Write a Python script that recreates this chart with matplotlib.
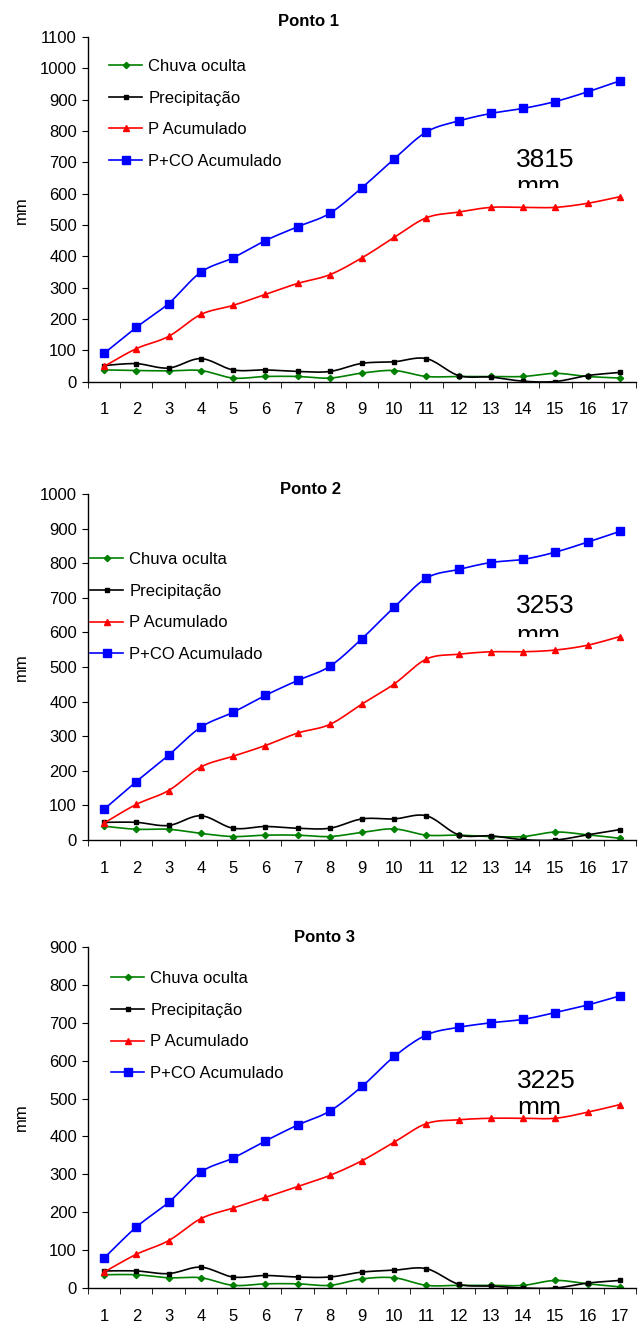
import numpy as np
import matplotlib.pyplot as plt
from matplotlib.lines import Line2D
from matplotlib.patches import Rectangle

plt.rcParams['font.family'] = ['Liberation Sans', 'DejaVu Sans']

dias = list(range(1, 18))
rotulos = ['Chuva oculta', 'Precipitação', 'P Acumulado', 'P+CO Acumulado']

# Ponto 1
co_1 = [37, 35, 34, 35, 11, 16, 16, 11, 27, 35, 16, 16, 16, 16, 26, 16, 11]
prec_1 = [51, 57, 43, 73, 37, 37, 32, 32, 58, 63, 73, 19, 14, 1, 0, 19, 29]
pacum_1 = [48, 105, 144, 214, 243, 278, 313, 341, 395, 460, 523, 541, 556, 556, 556, 569, 590]
pcoacum_1 = [90, 173, 249, 349, 395, 450, 494, 537, 619, 711, 797, 832, 856, 872, 894, 925, 960]

# Ponto 2
co_2 = [40, 31, 31, 19, 10, 14, 14, 10, 22, 32, 14, 14, 10, 10, 23, 15, 5]
prec_2 = [51, 51, 42, 70, 34, 39, 34, 34, 61, 61, 70, 15, 12, 1, 0, 15, 30]
pacum_2 = [49, 103, 143, 211, 242, 273, 309, 334, 393, 451, 523, 537, 544, 544, 549, 563, 588]
pcoacum_2 = [89, 169, 245, 326, 369, 418, 461, 502, 582, 673, 757, 782, 802, 811, 832, 861, 892]

# Ponto 3
co_3 = [35, 35, 27, 27, 7, 11, 11, 7, 24, 27, 7, 7, 7, 7, 20, 11, 3]
prec_3 = [45, 45, 38, 55, 29, 33, 29, 29, 42, 47, 51, 10, 5, 0, 0, 13, 20]
pacum_3 = [42, 89, 125, 183, 211, 239, 268, 297, 336, 385, 434, 444, 448, 448, 448, 464, 484]
pcoacum_3 = [79, 161, 226, 306, 343, 388, 430, 467, 532, 611, 668, 688, 700, 709, 727, 747, 771]

totais = ['3815', '3253', '3225']
titulos = ['Ponto 1', 'Ponto 2', 'Ponto 3']
ymax = [1100, 1000, 900]

cores = ['#008000', '#000000', '#ff0000', '#0000ff']
marcadores = ['D', 's', '^', 's']
tamanhos = [3.2, 3.5, 5, 5.5]


def suavizar(x, y, n=16):
    # curva suavizada tipo Excel (Catmull-Rom)
    x = np.asarray(x, float)
    y = np.asarray(y, float)
    px = np.concatenate([[x[0]], x, [x[-1]]])
    py = np.concatenate([[y[0]], y, [y[-1]]])
    t = np.linspace(0, 1, n, endpoint=False)[:, None]
    xs, ys = [], []
    for i in range(1, len(px) - 2):
        for arr, out in ((px, xs), (py, ys)):
            p0, p1, p2, p3 = arr[i - 1], arr[i], arr[i + 1], arr[i + 2]
            c1 = p1 + (p2 - p0) / 6
            c2 = p2 - (p3 - p1) / 6
            b = (1 - t) ** 3 * p1 + 3 * (1 - t) ** 2 * t * c1 + 3 * (1 - t) * t ** 2 * c2 + t ** 3 * p2
            out.extend(b.ravel())
    xs.append(x[-1])
    ys.append(y[-1])
    return xs, ys


fig = plt.figure(figsize=(6.38, 13.24), dpi=100)

series = [(co_1, prec_1, pacum_1, pcoacum_1),
          (co_2, prec_2, pacum_2, pcoacum_2),
          (co_3, prec_3, pacum_3, pcoacum_3)]

# posicoes em pixels de cada grafico
eixos_px = [(37, 381.5), (494, 840), (947, 1288)]
titulo_px = [(308, 21), (310, 489), (324, 937)]
legenda_px = [(109, 59), (90, 552), (111, 971)]
total_px = [(516, 167, 194, 188), (516, 613, 643, 637), (517, 1088, 1115, 1114)]
ylabel_y = [210, 667, 1117]

W, H = 638, 1324
for k in range(3):
    topo, base = eixos_px[k]
    ax = fig.add_axes([88 / W, 1 - base / H, 548 / W, (base - topo) / H])
    ax.set_zorder(5)
    ax.patch.set_alpha(0)
    for j, s in enumerate(series[k]):
        xs, ys = suavizar(dias, s)
        ax.plot(xs, ys, color=cores[j], lw=1.2, zorder=2 + j)
        ax.plot(dias, s, ls='none', marker=marcadores[j], ms=tamanhos[j],
                color=cores[j], zorder=2 + j)
    ax.set_xlim(0.5, 17.5)
    ax.set_ylim(0, ymax[k])
    ax.set_yticks(range(0, ymax[k] + 1, 100))
    ax.set_xticks(dias)
    ax.set_xticks(np.arange(0.5, 18, 1), minor=True)
    ax.tick_params(axis='x', which='major', length=0, pad=15, labelsize=12)
    ax.tick_params(axis='x', which='minor', length=4, direction='out')
    ax.tick_params(axis='y', length=4, direction='out', labelsize=12, pad=4)
    for lado in ['top', 'right']:
        ax.spines[lado].set_visible(False)
    for lado in ['left', 'bottom']:
        ax.spines[lado].set_linewidth(1.0)

    fig.text(titulo_px[k][0] / W, 1 - titulo_px[k][1] / H, titulos[k],
             ha='center', va='center', fontsize=12, fontweight='bold')
    fig.text(21 / W, 1 - ylabel_y[k] / H, 'mm', rotation=90,
             ha='center', va='center', fontsize=12)

    handles = [Line2D([], [], color=cores[j], lw=1.2, marker=marcadores[j],
                      ms=tamanhos[j]) for j in range(4)]
    fig.legend(handles=handles, labels=rotulos, loc='upper left',
               bbox_to_anchor=(legenda_px[k][0] / W, 1 - legenda_px[k][1] / H),
               frameon=False, fontsize=12, borderpad=0, borderaxespad=0,
               handlelength=2.0, handletextpad=0.35, labelspacing=1.0,
               numpoints=1)

    x0, yb1, yb2, yc = total_px[k]
    fig.text(x0 / W, 1 - yb1 / H, totais[k], ha='left', va='baseline',
             fontsize=19, zorder=2)
    fig.text(x0 / W, 1 - yb2 / H, 'mm', ha='left', va='baseline',
             fontsize=19, zorder=2)
    # caixa de texto cortada como no original
    fig.patches.append(Rectangle((x0 - 4, H - yb2 - 1), 70, yb2 + 1 - yc,
                                 transform=None, facecolor='white',
                                 edgecolor='none', zorder=3))

fig.savefig('out.png', dpi=100)
